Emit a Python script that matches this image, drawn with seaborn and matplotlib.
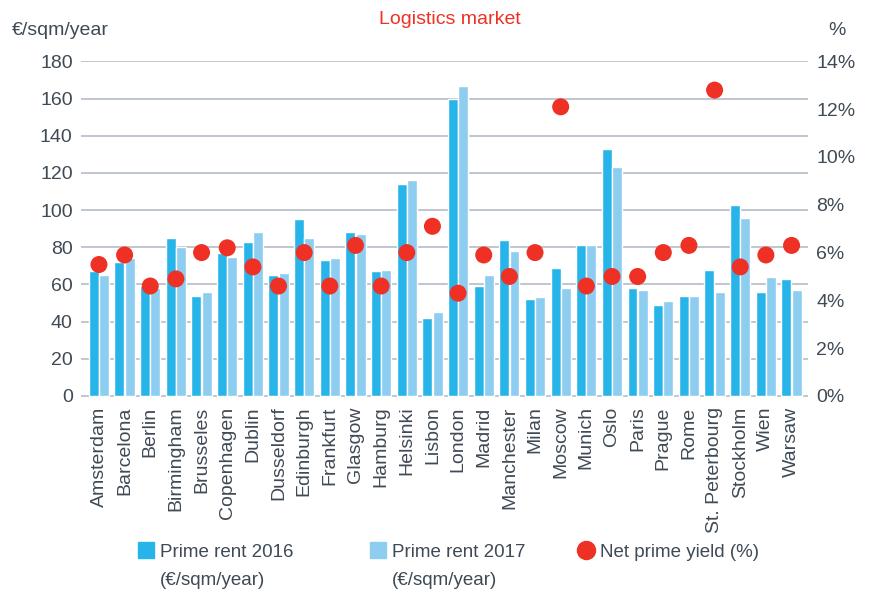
import numpy as np
import pandas as pd
import matplotlib
matplotlib.use("Agg")
import matplotlib.pyplot as plt
import seaborn as sns

cities = ["Amsterdam", "Barcelona", "Berlin", "Birmingham", "Brusseles", "Copenhagen",
          "Dublin", "Dusseldorf", "Edinburgh", "Frankfurt", "Glasgow", "Hamburg",
          "Helsinki", "Lisbon", "London", "Madrid", "Manchester", "Milan", "Moscow",
          "Munich", "Oslo", "Paris", "Prague", "Rome", "St. Peterbourg", "Stockholm",
          "Wien", "Warsaw"]
rent_2016 = [67, 72, 59, 85, 54, 77, 83, 65, 95, 73, 88, 67, 114, 42, 160, 59, 84, 52, 69,
             81, 133, 58, 49, 54, 68, 103, 56, 63]
rent_2017 = [65, 74, 58, 80, 56, 75, 88, 66, 85, 74, 87, 68, 116, 45, 167, 65, 78, 53, 58,
             81, 123, 57, 51, 54, 56, 96, 64, 57]
net_yield = [5.5, 5.9, 4.6, 4.9, 6.0, 6.2, 5.4, 4.6, 6.0, 4.6, 6.3, 4.6, 6.0, 7.1, 4.3, 5.9,
             5.0, 6.0, 12.1, 4.6, 5.0, 5.0, 6.0, 6.3, 12.8, 5.4, 5.9, 6.3]

rent_labels = ["Prime rent 2016", "Prime rent 2017"]
yield_label = "Net prime yield (%)"
unit = "(€/sqm/year)"
left_ticks = [0, 20, 40, 60, 80, 100, 120, 140, 160, 180]
right_ticks = [0, 2, 4, 6, 8, 10, 12, 14]

c16 = "#27b5e9"
c17 = "#8dcdf0"
red = "#ee3124"
txt = "#3f4a55"
grid = "#b4bcc7"

df = pd.DataFrame({
    "city": cities * 2,
    "rent": rent_2016 + rent_2017,
    "series": [rent_labels[0]] * len(cities) + [rent_labels[1]] * len(cities),
})

sns.set_style("white")
plt.rcParams["font.family"] = ["Liberation Sans", "DejaVu Sans"]

fig = plt.figure(figsize=(8.7, 5.96), dpi=100)
ax = fig.add_axes([0.0931, 0.3344, 0.8356, 0.5638])

sns.barplot(data=df, x="city", y="rent", hue="series", order=cities,
            palette=[c16, c17], width=0.8, gap=0.03, saturation=1,
            legend=False, ax=ax)
ax.set_xlim(-0.70, 27.64)
ax.set_ylim(-0.4, 180.4)
ax.set_yticks(left_ticks)
ax.set_yticklabels([str(t) for t in left_ticks])
ax.yaxis.grid(True, color=grid, linewidth=1.2)
ax.set_axisbelow(True)
ax.set_xlabel("")
ax.set_ylabel("")
ax.tick_params(axis="both", length=0, labelsize=14, colors=txt)
ax.tick_params(axis="y", pad=6)
sns.despine(ax=ax, left=True, bottom=True)

ax2 = ax.twinx()
sns.scatterplot(x=cities, y=net_yield, color=red, s=150, edgecolor="none",
                ax=ax2, zorder=5)
ax2.set_ylim(-0.4 * 14 / 180, 14 + 0.4 * 14 / 180)
ax2.set_yticks(right_ticks)
ax2.set_yticklabels([f"{t}%" for t in right_ticks])
ax2.tick_params(axis="y", length=0, labelsize=14, colors=txt, pad=6)
ax2.set_ylabel("")
ax2.grid(False)
sns.despine(ax=ax2, left=True, bottom=True, right=True)
ax.set_xticks(range(len(cities)))
ax.set_xticklabels(cities, rotation=90)
ax.tick_params(axis="x", pad=7)

fig.text(0.517, 0.968, "Logistics market", color=red, fontsize=14, ha="center", va="center")
fig.text(0.014, 0.948, "€/sqm/year", color=txt, fontsize=14, ha="left", va="center")
fig.text(0.962, 0.948, "%", color=txt, fontsize=14, ha="center", va="center")

handles = [
    plt.Line2D([], [], marker="s", linestyle="none", color=c16, markersize=11),
    plt.Line2D([], [], marker="s", linestyle="none", color=c17, markersize=11),
    plt.Line2D([], [], marker="o", linestyle="none", color=red, markersize=13),
]
labels = rent_labels + [yield_label]
anchors = [0.159, 0.4257, 0.6648]

fig.canvas.draw()
renderer = fig.canvas.get_renderer()
inv = fig.transFigure.inverted()
for h, lab, xa in zip(handles, labels, anchors):
    leg = fig.legend([h], [lab], frameon=False, loc="center left",
                     bbox_to_anchor=(xa, 0.073), borderaxespad=0, borderpad=0,
                     fontsize=13.5, handlelength=0.8, handletextpad=0.35,
                     labelcolor=txt)
    if lab in rent_labels:
        fig.canvas.draw()
        bb = leg.get_texts()[0].get_window_extent(renderer)
        x0, y0 = inv.transform((bb.x0, bb.y0))
        fig.text(x0, y0 - 0.018, unit, color=txt, fontsize=13.5, ha="left", va="top")

fig.savefig("out.png", dpi=100)
